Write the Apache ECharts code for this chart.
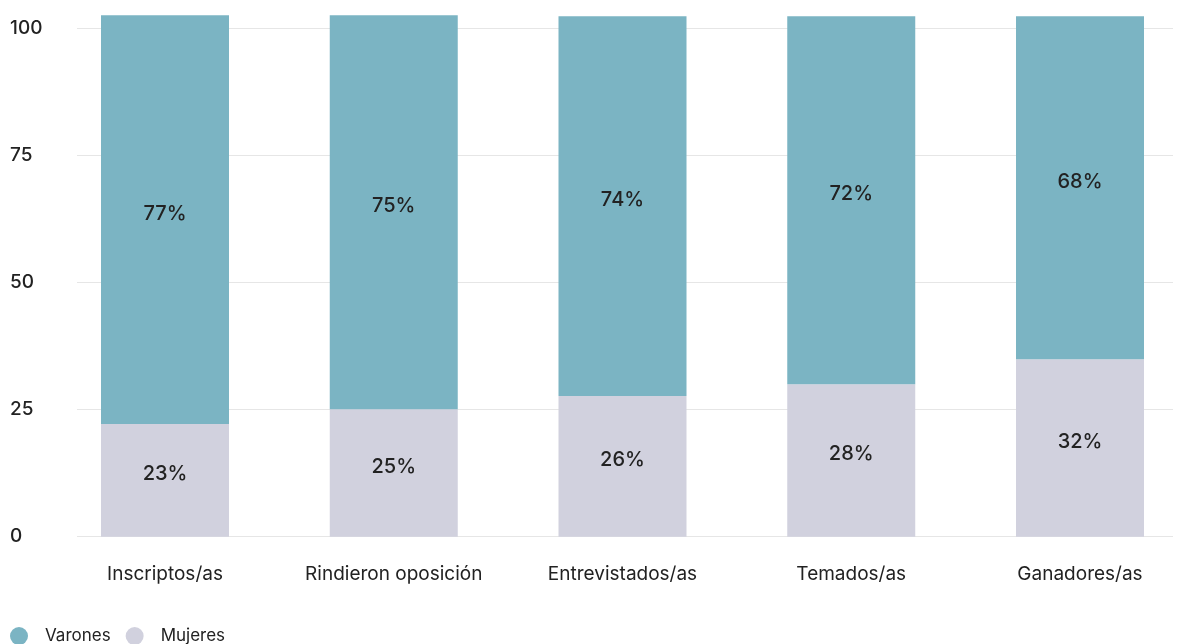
<!DOCTYPE html>
<html>
<head>
<meta charset="utf-8">
<script src="https://cdn.jsdelivr.net/npm/echarts@6/dist/echarts.min.js"></script>
<style>html,body{margin:0;padding:0;background:#fff}#c{width:1186px;height:644px}</style>
</head>
<body>
<div id="c"></div>
<script>
const categories = ['Inscriptos/as', 'Rindieron oposición', 'Entrevistados/as', 'Temados/as', 'Ganadores/as'];
const mujeresValues = [22.2, 25.1, 27.7, 30.0, 34.9];
const varonesValues = [80.4, 77.5, 74.7, 72.4, 67.5];
const mujeresLabels = ['23%', '25%', '26%', '28%', '32%'];
const varonesLabels = ['77%', '75%', '74%', '72%', '68%'];
const yTicks = [0, 25, 50, 75, 100];

const FONT = 'Inter, "Noto Sans", sans-serif';
const chart = echarts.init(document.getElementById('c'), null, {renderer: 'canvas'});
const labelStyle = (arr) => ({
  show: true, position: 'inside', offset: [0, -6],
  formatter: p => arr[p.dataIndex],
  color: '#222', fontSize: 20, fontWeight: 500, fontFamily: FONT
});
chart.setOption({
  animation: false,
  backgroundColor: '#fff',
  legend: {
    left: 10, top: 627, padding: 0, itemWidth: 18, itemHeight: 18, itemGap: 15,
    icon: 'circle',
    data: ['Varones', 'Mujeres'],
    textStyle: {color: '#222', fontSize: 17, fontFamily: FONT, padding: [0, 0, 0, 12]}
  },
  grid: [
    {left: 165, width: 915, top: 28.5, height: 508.2},
    {left: 77, width: 1096, top: 28.5, height: 508.2}
  ],
  xAxis: [
    {type: 'category', gridIndex: 0, data: categories, boundaryGap: false,
     axisLine: {show: false}, axisTick: {show: false},
     axisLabel: {interval: 0, hideOverlap: false, color: '#222', fontSize: 19, margin: 28, fontFamily: FONT}},
    {type: 'value', gridIndex: 1, show: false, min: 0, max: 1}
  ],
  yAxis: [
    {type: 'value', gridIndex: 0, min: 0, max: 100, show: false},
    {type: 'value', gridIndex: 1, min: yTicks[0], max: yTicks[yTicks.length - 1], interval: 25,
     axisLine: {show: false}, axisTick: {show: false},
     splitLine: {lineStyle: {color: '#e6e6e6', width: 1}},
     axisLabel: {align: 'left', margin: 67, color: '#222', fontSize: 19, fontWeight: 500, fontFamily: FONT}}
  ],
  series: [
    {name: 'Mujeres', type: 'bar', stack: 's', xAxisIndex: 0, yAxisIndex: 0, clip: false,
     barWidth: 128, data: mujeresValues, itemStyle: {color: '#d1d1de'}, label: labelStyle(mujeresLabels)},
    {name: 'Varones', type: 'bar', stack: 's', xAxisIndex: 0, yAxisIndex: 0, clip: false,
     barWidth: 128, data: varonesValues, itemStyle: {color: '#7bb4c3'}, label: labelStyle(varonesLabels)}
  ]
});
</script>
</body>
</html>
